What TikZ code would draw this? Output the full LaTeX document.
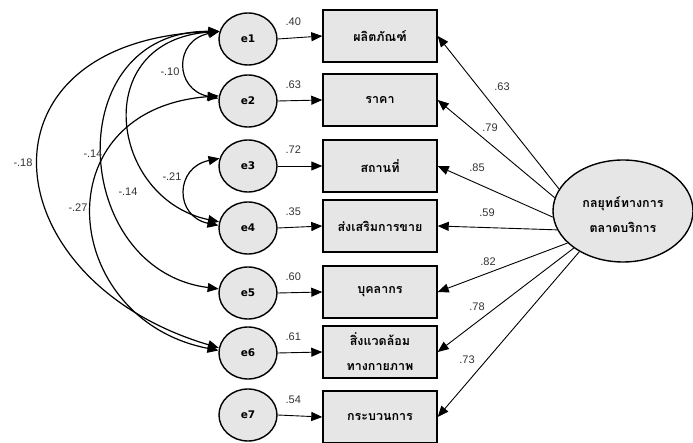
\documentclass[tikz,border=0pt]{standalone}
\usepackage{fontspec}
\setmainfont{Liberation Sans}
\newfontfamily\thaifont[Script=Thai]{Loma}
\newfontfamily\djv{DejaVu Sans}
\usetikzlibrary{arrows.meta,shapes.geometric}
\definecolor{boxgray}{HTML}{E6E6E6}
\definecolor{numgray}{HTML}{333333}
\begin{document}
\begin{tikzpicture}[x=1pt,y=-1pt,
  err/.style={ellipse, draw, line width=1.4pt, fill=boxgray, minimum width=58pt, minimum height=52pt, inner sep=0pt, font=\djv\bfseries\fontsize{10.5}{12}\selectfont},
  obs/.style={rectangle, draw, line width=1.4pt, fill=boxgray, minimum width=114pt, minimum height=52pt, inner sep=0pt, font=\thaifont\bfseries\fontsize{12.5}{25}\selectfont, align=center},
  lat/.style={ellipse, draw, line width=1.4pt, fill=boxgray, minimum width=140pt, minimum height=102pt, inner sep=0pt},
  lattext/.style={font=\thaifont\bfseries\fontsize{12.5}{25}\selectfont, align=center, inner sep=0pt},
  tip/.style={-{Triangle[length=11pt,width=9pt]}, line width=0.9pt},
  cov/.style={{Triangle[length=11pt,width=9pt]}-{Triangle[length=11pt,width=9pt]}, line width=1.2pt},
  coef/.style={font=\fontsize{11}{12}\selectfont, text=numgray, inner sep=0pt}
]
\useasboundingbox (0,0) rectangle (693,443);
\fill[white] (0,0) rectangle (693,443);

% error terms
\node[err] (e1) at (248,39) {e1};
\node[err] (e2) at (248,101) {e2};
\node[err] (e3) at (248,166) {e3};
\node[err] (e4) at (248,228) {e4};
\node[err] (e5) at (248,293) {e5};
\node[err] (e6) at (248,353) {e6};
\node[err] (e7) at (248,415) {e7};

% observed variables
\node[obs] (b1) at (380,36) {ผลิตภัณฑ์};
\node[obs] (b2) at (380,100) {ราคา};
\node[obs] (b3) at (380,166) {สถานที่};
\node[obs] (b4) at (380,226) {ส่งเสริมการขาย};
\node[obs] (b5) at (380,292) {บุคลากร};
\node[obs] (b6) at (380,352) {สิ่งแวดล้อม\\ทางกายภาพ};
\node[obs] (b7) at (380,417) {กระบวนการ};

% latent variable
\node[lat] (L) at (623,211) {};
\node[lattext] (Lt) at (623,215) {กลยุทธ์ทางการ\\ตลาดบริการ};

% error -> observed
\foreach \i/\v in {1/.40,2/.63,3/.72,4/.35,5/.60,6/.61,7/.54}{
  \draw[tip] (e\i.east) -- (b\i.west) node[coef, pos=0.35, yshift=16pt] (w\i) {\v};
}

% latent -> observed
\draw[tip] (L.161) -- (b1.east);
\draw[tip] (L.169) -- (b2.east);
\draw[tip] (L.185) -- (b3.east);
\draw[tip] (L.196) -- (b4.east);
\draw[tip] (L.210) -- (b5.east);
\draw[tip] (L.217) -- (b6.east);
\draw[tip] (L.223) -- (b7.east);
\node[coef] (l1) at (502,87) {.63};
\node[coef] (l2) at (490,128) {.79};
\node[coef] (l3) at (477,168) {.85};
\node[coef] (l4) at (487,213) {.59};
\node[coef] (l5) at (488,262) {.82};
\node[coef] (l6) at (477,307) {.78};
\node[coef] (l7) at (467,360) {.73};

% covariances
\draw[cov] (e1.165) .. controls +(-46,9) and +(-44,-9) .. (e2.175);
\draw[cov] (e3.165) .. controls +(-45,9) and +(-44,-9) .. (e4.175);
\draw[cov] (e1.165) .. controls +(-131,9) and +(-110,-23) .. (e4.168);
\draw[cov] (e1.165) .. controls +(-161,-1) and +(-149,-19) .. (e5.172);
\draw[cov] (e1.165) .. controls +(-251,9) and +(-229,-68) .. (e6.170);
\draw[cov] (e2.170) .. controls +(-178,13) and +(-159,-31) .. (e6.175);

\node[coef] (c1) at (170,72) {-.10};
\node[coef] (c2) at (172,177) {-.21};
\node[coef] (c3) at (128,192) {-.14};
\node[coef] (c4) at (93,154) {-.14};
\node[coef] (c5) at (23,163) {-.18};
\node[coef] (c6) at (78,208) {-.27};
\end{tikzpicture}
\end{document}
